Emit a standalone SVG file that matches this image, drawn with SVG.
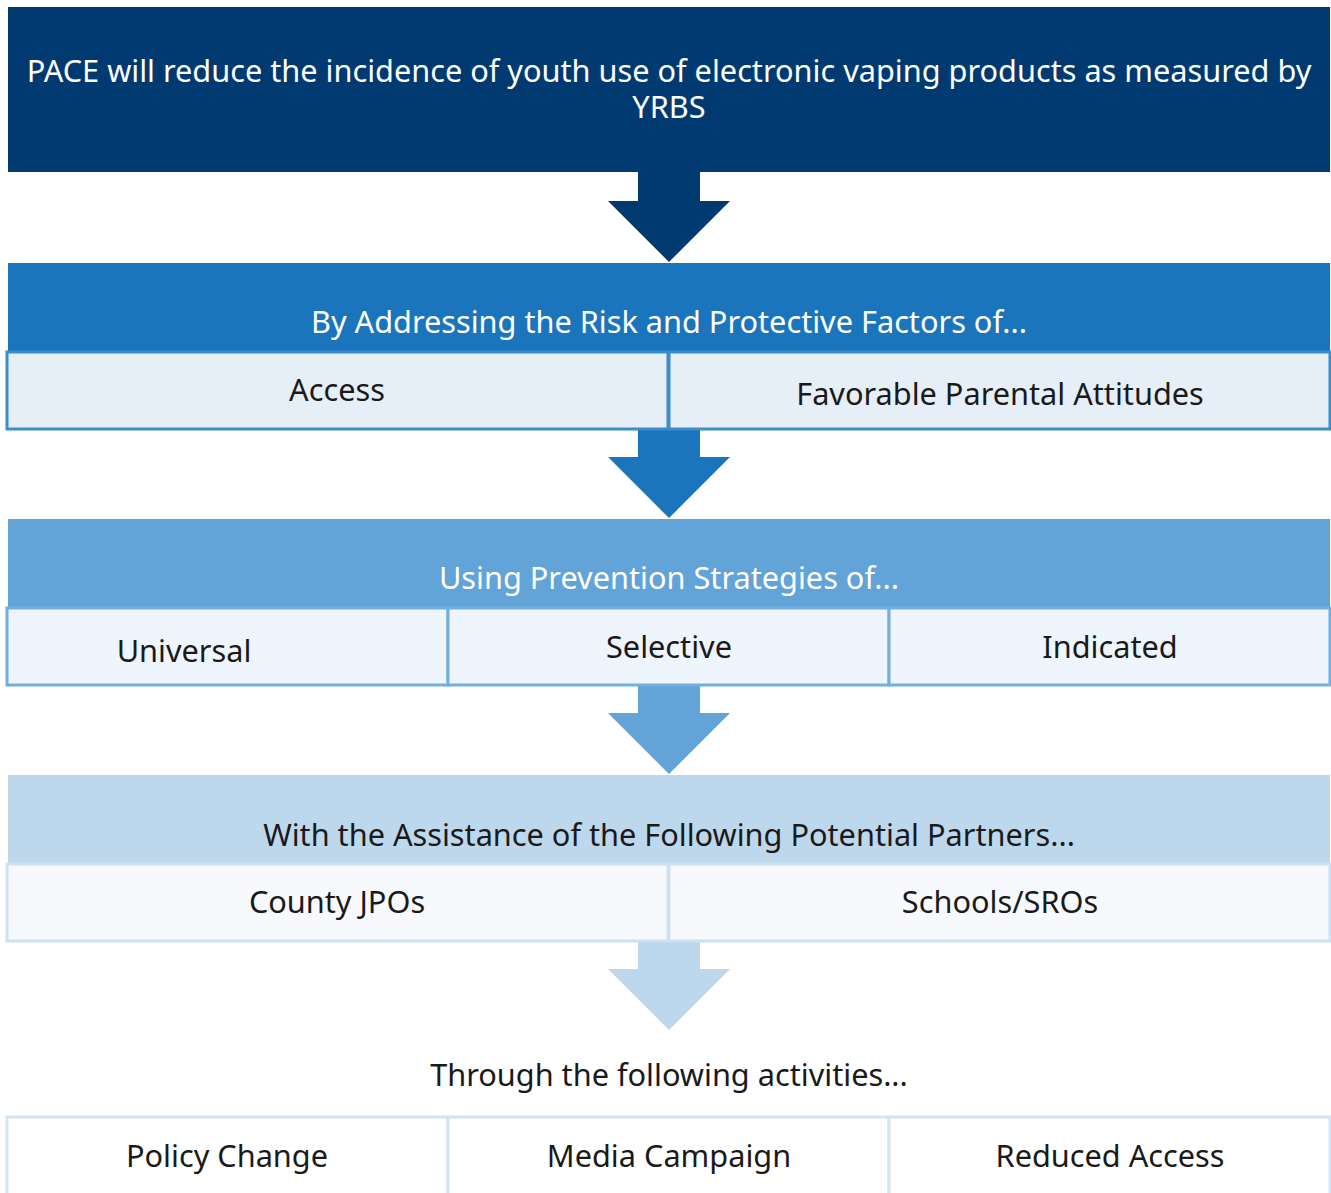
<svg xmlns="http://www.w3.org/2000/svg" width="1331" height="1193" viewBox="0 0 1331 1193">
<style>
text{font-family:"Noto Sans","Open Sans","Liberation Sans",sans-serif;font-size:30.7px;text-anchor:middle}
.w{fill:#ffffff}
.d{fill:#1a1a1a}
.b2{fill:#e6eef8;stroke:#3b8ccb;stroke-width:3}
.b3{fill:#eef5fc;stroke:#72afe0;stroke-width:3}
.b4{fill:#f7f9fc;stroke:#cfe0f0;stroke-width:3}
.b5{fill:#ffffff;stroke:#d6e4f2;stroke-width:3}
</style>
<rect width="1331" height="1193" fill="#ffffff"/>
<g id="connectors">
<polygon points="638,171 700,171 700,201 730,201 669,262 608,201 638,201" fill="#003a70"/>
<polygon points="638,429 700,429 700,457 730,457 669,518 608,457 638,457" fill="#1b75bc"/>
<polygon points="638,685 700,685 700,713 730,713 669,774 608,713 638,713" fill="#62a3d8"/>
<polygon points="638,941 700,941 700,969 730,969 669,1030 608,969 638,969" fill="#bdd7ec"/>
</g>
<g id="goal">
<rect x="8" y="7" width="1322" height="165" fill="#003a70"/>
<text class="w" x="669" y="82">PACE will reduce the incidence of youth use of electronic vaping products as measured by</text>
<text class="w" x="669" y="118">YRBS</text>
</g>
<g id="factors">
<rect x="8" y="263" width="1322" height="90" fill="#1b75bc"/>
<text class="w" x="669" y="333">By Addressing the Risk and Protective Factors of...</text>
</g>
<g id="access">
<rect class="b2" x="7" y="352" width="661" height="77"/>
<text class="d" x="337" y="401">Access</text>
</g>
<g id="parental">
<rect class="b2" x="669" y="352" width="661" height="77"/>
<text class="d" x="1000" y="405">Favorable Parental Attitudes</text>
</g>
<g id="strategies">
<rect x="8" y="519" width="1322" height="90" fill="#62a3d8"/>
<text class="w" x="669" y="589">Using Prevention Strategies of...</text>
</g>
<g id="universal">
<rect class="b3" x="7" y="608" width="441" height="77"/>
<text class="d" x="184" y="662">Universal</text>
</g>
<g id="selective">
<rect class="b3" x="448" y="608" width="441" height="77"/>
<text class="d" x="669" y="658">Selective</text>
</g>
<g id="indicated">
<rect class="b3" x="889" y="608" width="441" height="77"/>
<text class="d" x="1110" y="658">Indicated</text>
</g>
<g id="partners">
<rect x="8" y="775" width="1322" height="90" fill="#bdd7ec"/>
<text class="d" x="669" y="846">With the Assistance of the Following Potential Partners...</text>
</g>
<g id="jpos">
<rect class="b4" x="7" y="864" width="661" height="77"/>
<text class="d" x="337" y="913">County JPOs</text>
</g>
<g id="schools">
<rect class="b4" x="669" y="864" width="661" height="77"/>
<text class="d" x="1000" y="913">Schools/SROs</text>
</g>
<g id="activities">
<text class="d" x="669" y="1086">Through the following activities...</text>
</g>
<g id="policy">
<rect class="b5" x="7" y="1117" width="441" height="78"/>
<text class="d" x="227" y="1167">Policy Change</text>
</g>
<g id="media">
<rect class="b5" x="448" y="1117" width="441" height="78"/>
<text class="d" x="669" y="1167">Media Campaign</text>
</g>
<g id="reduced">
<rect class="b5" x="889" y="1117" width="441" height="78"/>
<text class="d" x="1110" y="1167">Reduced Access</text>
</g>
</svg>
